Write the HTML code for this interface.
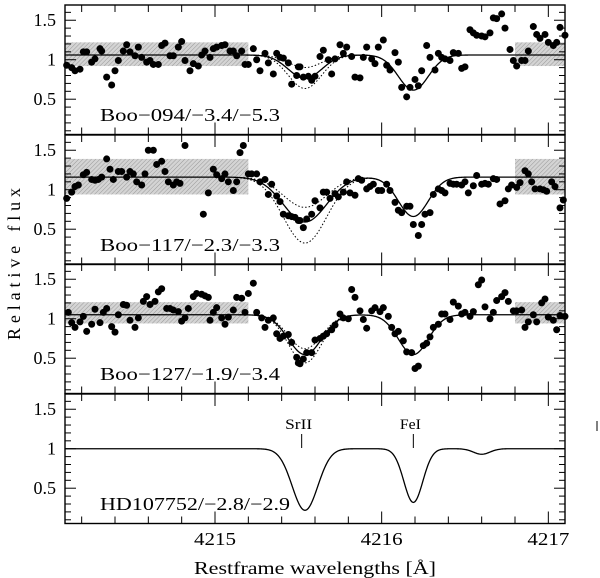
<!DOCTYPE html>
<html><head><meta charset="utf-8"><style>
html,body{margin:0;padding:0;background:#fff;}
svg{display:block;font-family:"Liberation Serif",serif;}
</style></head><body>
<svg id="chart" width="600" height="578" viewBox="0 0 600 578" xmlns="http://www.w3.org/2000/svg">
<defs>
<pattern id="hatch" width="3" height="3" patternUnits="userSpaceOnUse" patternTransform="rotate(45)">
<rect width="3" height="3" fill="#d4d4d4"/><line x1="0" y1="0" x2="0" y2="3" stroke="#999" stroke-width="1"/>
</pattern>
</defs>
<g id="layer"></g>
</svg>
<script>
// ---- data ----
const xTickLabels = [4215, 4216, 4217];
const yTickLabels = [0.5, 1, 1.5];
const panelLabels = ["Boo\u2212094/\u22123.4/\u22125.3", "Boo\u2212117/\u22122.3/\u22123.3", "Boo\u2212127/\u22121.9/\u22123.4", "HD107752/\u22122.8/\u22122.9"];
const lineLabels = ["SrII", "FeI"];
const lineCenters = [4215.52, 4216.19];

const p1Wave = [4214.11,4214.14,4214.16,4214.19,4214.21,4214.23,4214.26,4214.28,4214.31,4214.32,4214.35,4214.38,4214.40,4214.42,4214.45,4214.47,4214.49,4214.52,4214.54,4214.56,4214.59,4214.61,4214.63,4214.66,4214.68,4214.70,4214.73,4214.75,4214.78,4214.80,4214.82,4214.85,4214.87,4214.90,4214.92,4214.94,4214.97,4214.99,4215.01,4215.04,4215.06,4215.09,4215.11,4215.13,4215.16,4215.18,4215.20,4215.23,4215.25,4215.27,4215.30,4215.32,4215.35,4215.37,4215.39,4215.41,4215.44,4215.46,4215.49,4215.50,
4215.51,4215.53,4215.56,4215.58,4215.60,4215.63,4215.65,4215.68,4215.70,4215.72,4215.75,4215.77,4215.79,4215.82,4215.84,4215.87,4215.89,4215.91,4215.94,4215.96,4215.98,4216.01,4216.03,4216.05,4216.08,4216.10,4216.12,4216.15,4216.17,4216.20,4216.22,4216.24,4216.27,4216.29,4216.32,4216.34,4216.36,4216.38,4216.41,4216.43,4216.46,4216.48,4216.50,4216.53,4216.55,4216.57,4216.60,4216.62,4216.65,4216.67,4216.69,4216.72,4216.74,4216.77,4216.79,4216.81,4216.84,4216.86,4216.88,4216.91,4216.93,4216.95,4216.98,4217.00,4217.03,4217.05,4217.07,4217.10];
const p1Flux = [0.93,0.90,0.86,0.88,1.10,1.10,0.97,1.01,1.14,1.11,0.78,0.68,0.86,0.99,1.11,1.19,1.10,1.05,1.16,1.03,0.97,0.99,0.94,0.94,1.18,1.21,1.05,1.05,1.16,1.23,0.99,0.86,0.95,0.92,1.06,1.11,1.03,1.14,1.16,1.18,1.19,1.11,1.11,1.05,1.11,0.94,0.94,1.14,1.00,0.86,1.08,0.96,0.82,1.08,1.03,1.02,0.96,0.69,0.80,0.91,
0.91,0.78,0.79,0.74,0.79,1.04,1.12,1.00,0.82,1.01,1.19,1.08,1.16,1.04,0.78,0.77,1.03,1.16,1.01,0.95,1.16,1.25,0.93,0.87,1.09,0.97,0.65,0.53,0.65,0.75,0.67,0.86,1.18,1.03,0.87,1.08,1.03,1.01,0.99,1.09,1.08,0.89,0.91,1.38,1.34,1.31,1.30,1.29,1.34,1.53,1.52,1.58,1.40,1.13,0.99,0.92,0.99,0.99,1.11,1.42,1.32,1.27,1.32,1.22,1.18,1.22,1.41,1.31];

const p2Wave = [4214.11,4214.14,4214.16,4214.18,4214.21,4214.23,4214.26,4214.28,4214.30,4214.32,4214.35,4214.37,4214.39,4214.42,4214.44,4214.47,4214.49,4214.51,4214.53,4214.56,4214.58,4214.60,4214.63,4214.65,4214.68,4214.70,4214.72,4214.75,4214.77,4214.79,4214.82,4214.93,4214.96,4214.99,4215.01,4215.04,4215.06,4215.08,4215.11,4215.13,4215.15,4215.17,4215.20,4215.22,4215.25,4215.27,4215.30,4215.32,4215.34,4215.37,4215.39,4215.41,4215.44,4215.46,4215.48,4215.50,
4215.51,4215.53,4215.55,4215.58,4215.60,4215.63,4215.65,4215.67,4215.69,4215.72,4215.74,4215.77,4215.79,4215.81,4215.84,4215.86,4215.88,4215.91,4215.93,4215.95,4215.98,4216.00,4216.03,4216.05,4216.08,4216.10,4216.12,4216.15,4216.17,4216.19,4216.22,4216.24,4216.26,4216.29,4216.31,4216.34,4216.36,4216.38,4216.41,4216.43,4216.45,4216.48,4216.50,4216.52,4216.55,4216.57,4216.60,4216.62,4216.64,4216.67,4216.69,4216.71,4216.74,4216.76,4216.78,4216.81,4216.83,4216.86,4216.88,4216.90,4216.92,4216.95,4216.97,4216.99,4217.02,4217.04,4217.07,4217.09];
const p2Flux = [0.89,0.97,1.04,1.06,1.19,1.22,1.13,1.12,1.13,1.16,1.39,1.26,1.13,1.23,1.23,1.16,1.23,1.20,1.10,1.06,1.20,1.50,1.50,1.32,1.36,1.23,1.10,1.06,1.10,1.08,1.56,0.69,0.96,1.26,1.19,1.14,1.20,1.10,0.99,1.10,1.47,1.56,1.20,1.20,1.20,1.10,1.13,0.94,1.07,0.92,0.85,0.69,0.67,0.66,0.65,0.61,
0.61,0.52,0.63,0.69,0.86,0.77,0.97,0.97,0.89,0.95,0.91,0.97,1.10,0.96,0.93,1.14,1.12,1.01,1.04,1.07,0.99,0.99,1.07,0.99,0.84,0.74,0.71,0.79,0.79,0.56,0.42,0.56,0.69,0.71,0.94,1.01,0.99,0.96,1.08,1.07,1.07,1.06,1.10,0.96,1.05,1.18,1.07,1.08,1.07,1.14,1.13,0.82,0.86,1.01,1.06,1.03,1.09,1.24,1.20,1.10,1.01,1.01,1.00,0.98,1.10,1.04,0.77,0.87];

const p3Wave = [4214.12,4214.14,4214.16,4214.19,4214.21,4214.23,4214.26,4214.28,4214.31,4214.33,4214.35,4214.38,4214.40,4214.42,4214.45,4214.47,4214.49,4214.52,4214.54,4214.57,4214.59,4214.61,4214.64,4214.66,4214.68,4214.71,4214.73,4214.75,4214.78,4214.80,4214.82,4214.84,4214.87,4214.89,4214.92,4214.94,4214.96,4214.97,4214.99,4215.01,4215.04,4215.06,4215.08,4215.11,4215.13,4215.16,4215.18,4215.20,4215.23,4215.25,4215.28,4215.30,4215.32,4215.35,4215.37,4215.39,4215.41,4215.44,4215.46,4215.49,4215.50,
4215.51,4215.53,4215.55,4215.58,4215.60,4215.63,4215.65,4215.67,4215.70,4215.72,4215.75,4215.77,4215.80,4215.82,4215.84,4215.87,4215.89,4215.91,4215.94,4215.96,4215.99,4216.01,4216.04,4216.06,4216.08,4216.10,4216.13,4216.15,4216.18,4216.20,4216.22,4216.25,4216.27,4216.29,4216.31,4216.34,4216.36,4216.38,4216.41,4216.43,4216.46,4216.48,4216.50,4216.53,4216.55,4216.58,4216.60,4216.62,4216.65,4216.67,4216.69,4216.72,4216.74,4216.76,4216.79,4216.81,4216.84,4216.86,4216.88,4216.91,4216.93,4216.96,4216.98,4217.00,4217.03,4217.05,4217.07,4217.10];
const p3Flux = [1.08,0.95,0.89,0.96,1.03,0.84,0.93,1.12,0.95,1.08,1.13,0.90,0.83,1.05,1.18,1.17,0.98,0.89,1.01,1.22,1.28,1.18,1.22,1.34,1.38,1.13,1.13,1.11,1.09,0.97,1.01,1.13,1.28,1.32,1.31,1.29,1.27,0.98,1.08,1.14,1.01,0.93,1.02,1.11,1.27,1.26,1.08,1.32,1.45,1.08,1.01,0.89,0.98,1.01,0.81,0.75,0.78,0.80,0.70,0.51,0.44,
0.43,0.49,0.57,0.57,0.73,0.75,0.78,0.81,0.86,0.92,1.06,1.01,1.00,1.37,1.27,1.10,0.99,0.88,1.10,1.14,1.09,1.14,1.03,0.89,0.81,0.84,0.72,0.58,0.57,0.37,0.40,0.66,0.69,0.77,0.89,0.93,1.06,1.06,0.99,1.21,1.16,1.06,1.08,1.03,1.09,1.43,1.49,1.15,1.00,1.08,1.23,1.28,1.33,1.22,1.10,1.10,1.11,0.89,0.96,1.05,0.96,1.20,1.25,1.02,0.98,0.86,1.04,1.03];

// model fits: continuum, Sr depth (fit, upper, lower), Sr sigma, Fe depth, Fe sigma
const fitCont = [1.06, 1.16, 1.05, 1.00];
const fitSrDepth = [0.28, 0.49, 0.48, 0.78];
const fitSrDepthUp = [0.15, 0.33, 0.41, 0.78];
const fitSrDepthLo = [0.40, 0.72, 0.58, 0.78];
const fitSrSigma = [0.10, 0.13, 0.10, 0.077];
const fitFeDepth = [0.42, 0.43, 0.48, 0.68];
const fitFeSigma = [0.09, 0.09, 0.09, 0.057];
const weakDip = [0, 0, 0, 0.07];
// shaded continuum bands [low, high]
const bandLow = [0.92, 0.94, 0.94];
const bandHigh = [1.22, 1.39, 1.21];
const bandLeftEnd = 4215.2;
const bandRightStart = 4216.8;

// ---- layout ----
const NS = "http://www.w3.org/2000/svg";
const L = 65, R = 565, W0 = 4214.1, W1 = 4217.1;
const tops = [5, 135, 264, 394], PH = 129.5;
const F0 = 0.053, F1 = 1.693;
const X = w => L + (w - W0) / (W1 - W0) * (R - L);
const Y = (f, k) => tops[k] + PH - (f - F0) / (F1 - F0) * PH;
const layer = document.getElementById('layer');
function mk(tag, attrs, parent) {
  const e = document.createElementNS(NS, tag);
  for (const a in attrs) e.setAttribute(a, attrs[a]);
  (parent || layer).appendChild(e);
  return e;
}
function gauss(w, c, s) { return Math.exp(-0.5 * ((w - c) / s) ** 2); }
function model(w, k, srD) {
  return fitCont[k] * (1 - srD * gauss(w, lineCenters[0] + 0.02, fitSrSigma[k]) - fitFeDepth[k] * gauss(w, lineCenters[1], fitFeSigma[k]) - weakDip[k] * gauss(w, 4216.6, 0.05));
}
function curve(k, srD, w0, w1, dash, name) {
  let d = "";
  for (let w = w0; w <= w1 + 1e-9; w += 0.005) d += (d ? "L" : "M") + X(w).toFixed(2) + "," + Y(model(w, k, srD), k).toFixed(2);
  const p = mk('path', { d: d, fill: 'none', stroke: '#000', 'stroke-width': dash ? 1 : 1.3, 'stroke-dasharray': dash ? '1.5,2' : 'none' });
  
  
  return p;
}
const pointSets = [[p1Wave, p1Flux], [p2Wave, p2Flux], [p3Wave, p3Flux]];

for (let k = 0; k < 4; k++) {
  const g = mk('g', {});
  
  
  if (k < 3) {
    const b1 = mk('rect', { x: L, y: Y(bandHigh[k], k), width: X(bandLeftEnd) - L, height: Y(bandLow[k], k) - Y(bandHigh[k], k), fill: 'url(#hatch)' }, g);
    
    
    const b2 = mk('rect', { x: X(bandRightStart), y: Y(bandHigh[k], k), width: R - X(bandRightStart), height: Y(bandLow[k], k) - Y(bandHigh[k], k), fill: 'url(#hatch)' }, g);
    
    
  }
  if (k < 3) {
    g.appendChild(curve(k, fitSrDepthUp[k], 4215.15, 4216.0, true, 'fit-upper-dotted'));
    g.appendChild(curve(k, fitSrDepthLo[k], 4215.15, 4216.0, true, 'fit-lower-dotted'));
  }
  g.appendChild(curve(k, fitSrDepth[k], W0, W1, false, k < 3 ? 'fit-curve' : 'reference-spectrum'));
  if (k < 3) {
    const [ws, fs] = pointSets[k];
    for (let i = 0; i < ws.length; i++) {
      const c = mk('circle', { cx: X(ws[i]).toFixed(2), cy: Y(fs[i], k).toFixed(2), r: 3.5, fill: '#000' }, g);
      
      
    }
  }
  const fr = mk('rect', { x: L, y: tops[k], width: R - L, height: PH, fill: 'none', stroke: '#000', 'stroke-width': 1.4 }, g);
  
  
  for (let i = 0; i <= 15; i++) {
    const w = 4214.2 + i * 0.2;
    if (w > W1) break;
    const major = Math.abs(w - Math.round(w)) < 1e-6;
    const len = major ? 12 : 7, x = X(w);
    const t1 = mk('line', { x1: x, x2: x, y1: tops[k], y2: tops[k] + len, stroke: '#000', 'stroke-width': 1 }, g);
    
    
    const t2 = mk('line', { x1: x, x2: x, y1: tops[k] + PH, y2: tops[k] + PH - len, stroke: '#000', 'stroke-width': 1 }, g);
    
    
  }
  for (let i = 1; i <= 16; i++) {
    const f = i * 0.1;
    const major = Math.abs(f * 2 - Math.round(f * 2)) < 1e-6;
    const len = major ? 11 : 6, y = Y(f, k);
    const t1 = mk('line', { x1: L, x2: L + len, y1: y, y2: y, stroke: '#000', 'stroke-width': 1 }, g);
    
    
    const t2 = mk('line', { x1: R, x2: R - len, y1: y, y2: y, stroke: '#000', 'stroke-width': 1 }, g);
    
    
  }
  for (const v of yTickLabels) {
    const t = mk('text', { x: 56, y: Y(v, k) + 6, 'text-anchor': 'end', 'font-size': 18 }, g);
    t.textContent = String(v);
    
    
  }
  const lab = mk('text', { x: 100, y: tops[k] + 116, 'font-size': 18, textLength: k < 3 ? 180 : 190, lengthAdjust: 'spacingAndGlyphs' }, g);
  lab.textContent = panelLabels[k];
  
  
}
const lineLabelWidths = [27, 21];
for (let i = 0; i < lineLabels.length; i++) {
  const x = X(lineCenters[i]);
  const t = mk('line', { x1: x, x2: x, y1: 434, y2: 448, stroke: '#000', 'stroke-width': 1 });
  
  
  const tx = mk('text', { x: x - 3, y: 429, 'text-anchor': 'middle', 'font-size': 15, textLength: lineLabelWidths[i], lengthAdjust: 'spacingAndGlyphs' });
  tx.textContent = lineLabels[i];
  
  
}
const stray = mk('line', { x1: 597, x2: 597, y1: 421, y2: 431, stroke: '#000', 'stroke-width': 1 });


for (const v of xTickLabels) {
  const t = mk('text', { x: X(v), y: 545, 'text-anchor': 'middle', 'font-size': 18, textLength: 42, lengthAdjust: 'spacingAndGlyphs' });
  t.textContent = String(v);
  
  
}
const xt = mk('text', { x: 194, y: 574, 'font-size': 18, textLength: 242, lengthAdjust: 'spacingAndGlyphs' });
xt.textContent = "Restframe wavelengths [\u00c5]";


const yt = mk('text', { x: 0, y: 0, 'font-size': 18, 'text-anchor': 'middle', transform: 'translate(20,264) rotate(-90)', textLength: 152, lengthAdjust: 'spacing' });
yt.textContent = "Relative flux";


</script>
</body></html>
